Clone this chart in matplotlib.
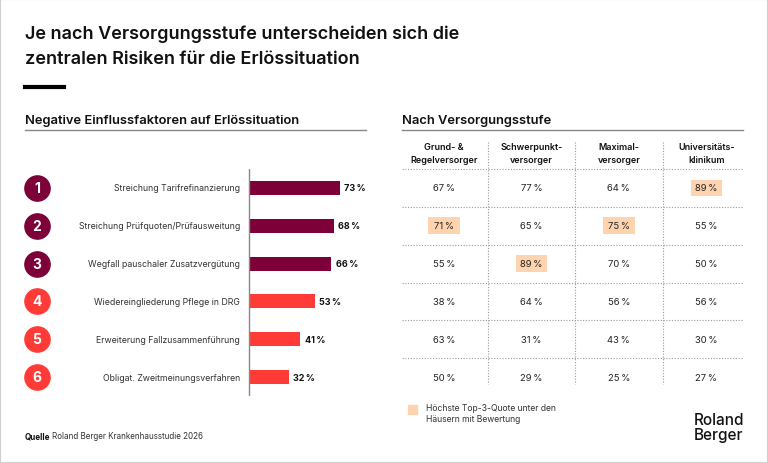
import matplotlib
matplotlib.use("Agg")
import matplotlib.pyplot as plt
from matplotlib.patches import Rectangle

plt.rcParams["font.family"] = ["Inter", "DejaVu Sans"]

# data
factors = [
    "Streichung Tarifrefinanzierung",
    "Streichung Prüfquoten/Prüfausweitung",
    "Wegfall pauschaler Zusatzvergütung",
    "Wiedereingliederung Pflege in DRG",
    "Erweiterung Fallzusammenführung",
    "Obligat. Zweitmeinungsverfahren",
]
totals = [73, 68, 66, 53, 41, 32]
levels = ["Grund- &\nRegelversorger", "Schwerpunkt-\nversorger",
          "Maximal-\nversorger", "Universitäts-\nklinikum"]
grund = [67, 71, 55, 38, 63, 50]
schwer = [77, 65, 89, 64, 31, 29]
maximal = [64, 75, 70, 56, 43, 25]
uni = [89, 55, 50, 56, 30, 27]
# (row, col) of highlighted cells
highlights = [(0, 3), (1, 0), (1, 2), (2, 1)]

DARK = "#7d0039"
RED = "#ff3b37"
HIGHLIGHT = "#fdd3b0"
W, H = 768, 464


def fx(x):
    return x / W


def fy(y):
    return 1 - y / H


fig = plt.figure(figsize=(7.68, 4.64), dpi=100)
fig.patches.append(Rectangle((0, 0), 1, 1, transform=fig.transFigure,
                             fill=False, edgecolor="#cfcfcf", linewidth=1.5))

# title
fig.text(fx(25), fy(34), "Je nach Versorgungsstufe unterscheiden sich die",
         fontsize=13, fontweight="semibold", va="center", color="#111111")
fig.text(fx(25), fy(59), "zentralen Risiken für die Erlössituation",
         fontsize=13, fontweight="semibold", va="center", color="#111111")
fig.add_artist(plt.Line2D([fx(25), fx(64)], [fy(88), fy(88)],
                          transform=fig.transFigure, color="black", lw=3))

# section headers
fig.text(fx(25), fy(121), "Negative Einflussfaktoren auf Erlössituation",
         fontsize=9.3, fontweight="semibold", va="center", color="#111111")
fig.add_artist(plt.Line2D([fx(25), fx(366)], [fy(131), fy(131)],
                          transform=fig.transFigure, color="#888888", lw=1))
fig.text(fx(402), fy(121), "Nach Versorgungsstufe",
         fontsize=9.3, fontweight="semibold", va="center", color="#111111")
fig.add_artist(plt.Line2D([fx(402), fx(743)], [fy(131), fy(131)],
                          transform=fig.transFigure, color="#888888", lw=1))

# left: bar chart
ax = fig.add_axes([fx(25), fy(397), fx(366) - fx(25), fy(170) - fy(397)])
ax.set_xlim(-179.6, 93.8)
ax.set_ylim(5.5, -0.5)
ax.axis("off")
rows = list(range(len(factors)))
colors = [DARK] * 3 + [RED] * 3
ax.barh(rows, totals, height=0.37, color=colors)
ax.axvline(0, color="#888888", lw=1)
for i, (lab, v) in enumerate(zip(factors, totals)):
    ax.scatter(-170, i, s=330, color=colors[i], zorder=3, clip_on=False)
    ax.text(-170, i, str(i + 1), color="white", fontsize=10,
            fontweight="bold", ha="center", va="center", zorder=4)
    ax.text(-7.2, i, lab, fontsize=6.3, ha="right", va="center", color="#333333")
    ax.text(v + 3.5, i, f"{v}\u2009%", fontsize=6.5, fontweight="bold",
            ha="left", va="center", color="#111111")

# right: table
tx = fig.add_axes([fx(402), fy(397), fx(743) - fx(402), fy(170) - fy(397)])
tx.set_xlim(-0.48, 3.42)
tx.set_ylim(5.5, -0.5)
tx.axis("off")
cols = [grund, schwer, maximal, uni]
for r in range(len(factors)):
    tx.plot([-0.48, 3.42], [r - 0.5, r - 0.5], color="#999999", lw=0.8,
            ls=(0, (1, 1.5)), clip_on=False)
for c in range(1, 4):
    tx.plot([c - 0.5, c - 0.5], [-1.22, 5.18], color="#999999", lw=0.8,
            ls=(0, (1, 1.5)), clip_on=False)
for c, (lev, vals) in enumerate(zip(levels, cols)):
    tx.text(c, -0.92, lev, fontsize=6.5, fontweight="semibold", ha="center",
            va="center", linespacing=1.5, color="#111111", clip_on=False)
    for r, v in enumerate(vals):
        if (r, c) in highlights:
            tx.add_patch(Rectangle((c - 0.18, r - 0.22), 0.36, 0.44,
                                   color=HIGHLIGHT, lw=0, zorder=1))
        tx.text(c, r, f"{v}\u2009%", fontsize=6.8, ha="center", va="center",
                color="#222222", zorder=2)

# legend
fig.patches.append(Rectangle((fx(408), fy(415)), fx(9), 9 / H,
                             transform=fig.transFigure, color=HIGHLIGHT))
fig.text(fx(426), fy(414), "Höchste Top-3-Quote unter den\nHäusern mit Bewertung",
         fontsize=6.2, va="center", linespacing=1.3, color="#333333")

# footer
fig.text(fx(25), fy(437), "Quelle", fontsize=5.8, fontweight="bold",
         va="center", color="#111111")
fig.text(fx(52), fy(437), "Roland Berger Krankenhausstudie 2026", fontsize=5.8,
         va="center", color="#333333")
fig.text(fx(694), fy(428), "Roland\nBerger", fontsize=11, fontweight="medium",
         va="center", linespacing=1.0, color="#111111")

fig.savefig("out.png", dpi=100)
